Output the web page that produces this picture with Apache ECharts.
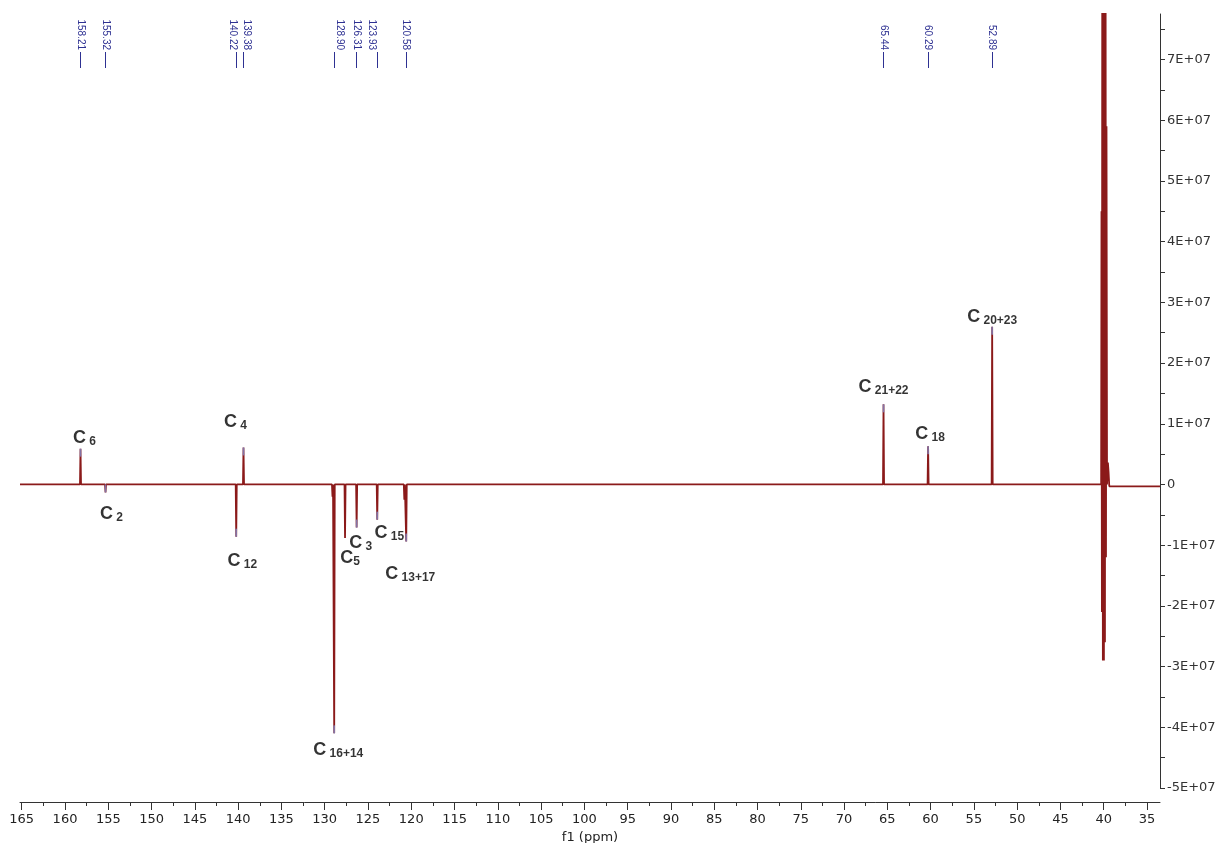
<!DOCTYPE html>
<html>
<head>
<meta charset="utf-8">
<script src="https://cdn.jsdelivr.net/npm/echarts@6/dist/echarts.min.js"></script>
<style>
html, body { margin: 0; padding: 0; background: #fff; }
#chart { width: 1218px; height: 843px; }
</style>
</head>
<body>
<div id="chart"></div>
<script>
// peaks: shift (ppm) and intensity
const peakPpm = [158.21, 155.32, 140.22, 139.38, 129.10, 128.90, 127.65, 126.31, 123.93, 120.80, 120.58, 65.44, 60.29, 52.89];
const peakInt = [5.9e6, -1.3e6, -8.6e6, 6.1e6, -2.0e6, -4.1e7, -8.8e6, -7.1e6, -5.8e6, -2.5e6, -9.4e6, 1.32e7, 6.3e6, 2.6e7];

// solvent multiplet near 39.5 ppm (goes off scale)
const solventPpm = [40.30, 40.26, 40.21, 40.16, 40.10, 40.04, 39.98, 39.92, 39.86, 39.80, 39.74, 39.68, 39.62, 39.52, 39.44, 39.36];
const solventInt = [0, 4.5e7, -2.1e7, 1.2e8, -2.9e7, 1.2e8, -2.9e7, 1.2e8, -2.6e7, 1.2e8, -1.2e7, 5.9e7, 0, 3.6e6, 2.0e6, -3e5];

// picked shifts printed along the top
const shiftLabels = [158.21, 155.32, 140.22, 139.38, 128.90, 126.31, 123.93, 120.58, 65.44, 60.29, 52.89];

// carbon assignments
const carbonNames = ['6', '2', '4', '12', '16+14', '5', '3', '15', '13+17', '21+22', '18', '20+23'];
const carbonPpm = [158.21, 155.32, 139.38, 140.22, 128.90, 127.65, 126.31, 123.93, 120.58, 65.44, 60.29, 52.89];

// axis ticks
const xTicks = [165, 160, 155, 150, 145, 140, 135, 130, 125, 120, 115, 110, 105, 100, 95, 90, 85, 80, 75, 70, 65, 60, 55, 50, 45, 40, 35];
const xMinorTicks = [162.5, 157.5, 152.5, 147.5, 142.5, 137.5, 132.5, 127.5, 122.5, 117.5, 112.5, 107.5, 102.5, 97.5, 92.5, 87.5, 82.5, 77.5, 72.5, 67.5, 62.5, 57.5, 52.5, 47.5, 42.5, 37.5];
const yTicks = [-5e7, -4e7, -3e7, -2e7, -1e7, 0, 1e7, 2e7, 3e7, 4e7, 5e7, 6e7, 7e7];
const yTickMarks = [-5e7, -4.5e7, -4e7, -3.5e7, -3e7, -2.5e7, -2e7, -1.5e7, -1e7, -5e6, 0, 5e6, 1e7, 1.5e7, 2e7, 2.5e7, 3e7, 3.5e7, 4e7, 4.5e7, 5e7, 5.5e7, 6e7, 6.5e7, 7e7, 7.5e7];

const X_MIN = 33.5, X_MAX = 165.2;

// build the trace: each peak as a narrow spike on the baseline
const spectrum = [[X_MAX, 0]];
peakPpm.forEach((p, i) => {
  spectrum.push([p + 0.06, 0], [p, peakInt[i]], [p - 0.06, 0]);
});
solventPpm.forEach((p, i) => spectrum.push([p, solventInt[i]]));
spectrum.push([X_MIN, -3e5]);

const intensityAt = p => peakInt[peakPpm.indexOf(p)];

// label placement around each peak tip: [position, distance, dx]
const annPlace = {
  '6': ['top', 1, 4], '2': ['bottom', 12, 6], '4': ['top', 16, -8], '12': ['bottom', 15, 6],
  '16+14': ['bottom', 7, 4], '5': ['bottom', 11, 5], '3': ['bottom', 6, 4], '15': ['bottom', 4, 12],
  '13+17': ['bottom', 23, 4], '21+22': ['top', 8, 0], '18': ['top', 3, 2], '20+23': ['top', 0, 0]
};
// crowded shift labels are nudged sideways (ppm), the tick stays on the peak
const shiftNudge = { '140.22': 0.35, '139.38': -0.35, '128.90': -0.6, '123.93': 0.6 };
const shiftSlots = shiftLabels.map(v => v + (shiftNudge[v.toFixed(2)] || 0));

const navy = '#2e3192';
const traceColor = '#8b1a1a';

const baseX = { type: 'value', inverse: true, min: X_MIN, max: X_MAX, splitLine: { show: false } };

const chart = echarts.init(document.getElementById('chart'));
chart.setOption({
  animation: false,
  backgroundColor: '#fff',
  grid: { left: 20, right: 58, top: 14, bottom: 55, outerBoundsMode: 'none' },
  xAxis: [
    Object.assign({}, baseX, {
      position: 'bottom', offset: 14,
      axisLine: { onZero: false, lineStyle: { color: '#333' } },
      axisTick: { customValues: xTicks, length: 8, lineStyle: { color: '#333' } },
      axisLabel: { customValues: xTicks, margin: 11, fontSize: 13, fontFamily: 'DejaVu Sans', color: '#222' },
      name: 'f1 (ppm)', nameLocation: 'middle', nameGap: 25,
      nameTextStyle: { fontSize: 13, fontFamily: 'DejaVu Sans', color: '#222' }
    }),
    Object.assign({}, baseX, {
      position: 'bottom', offset: 14,
      axisLine: { show: false, onZero: false },
      axisTick: { customValues: xMinorTicks, length: 4, lineStyle: { color: '#333' } },
      axisLabel: { show: false }
    }),
    Object.assign({}, baseX, {
      position: 'top', offset: -54,
      axisLine: { show: false, onZero: false },
      axisTick: { customValues: shiftLabels, length: 16, lineStyle: { color: navy } },
      axisLabel: { show: false }
    }),
    Object.assign({}, baseX, {
      position: 'top', offset: -54,
      axisLine: { show: false, onZero: false },
      axisTick: { show: false },
      axisLabel: {
        customValues: shiftSlots, rotate: 90, margin: 18, hideOverlap: false,
        fontSize: 10, fontFamily: 'Liberation Sans', color: navy,
        formatter: v => {
          const i = shiftSlots.findIndex(s => Math.abs(s - v) < 1e-6);
          return (i >= 0 ? shiftLabels[i] : v).toFixed(2);
        }
      }
    })
  ],
  yAxis: {
    type: 'value', position: 'right', min: -5e7, max: 7.75e7,
    axisLine: { show: true, onZero: false, lineStyle: { color: '#333' } },
    axisTick: { show: true, customValues: yTickMarks, length: 5, lineStyle: { color: '#333' } },
    axisLabel: {
      customValues: yTicks, margin: 7, fontSize: 13, fontFamily: 'DejaVu Sans', color: '#333',
      formatter: v => (v === 0 ? '0' : Math.round(v / 1e7) + 'E+07')
    },
    splitLine: { show: false }
  },
  series: [
    {
      type: 'line', data: spectrum, showSymbol: false, symbol: 'none',
      lineStyle: { color: traceColor, width: 1.8 }, z: 2
    },
    {
      // peak-pick markers at the tips
      type: 'scatter', symbol: 'rect', z: 3,
      itemStyle: { color: '#8088c8' },
      data: shiftLabels.map(p => {
        const v = intensityAt(p);
        return { value: [p, v], symbolSize: [1.6, 8], symbolOffset: [0, v > 0 ? 4 : -4] };
      })
    },
    {
      type: 'scatter', symbolSize: 1, z: 4,
      itemStyle: { color: 'rgba(0,0,0,0)' },
      data: carbonNames.map((n, i) => {
        const pl = annPlace[n];
        return {
          name: n,
          value: [carbonPpm[i], intensityAt(carbonPpm[i])],
          label: { position: pl[0], distance: pl[1], offset: [pl[2], 0] }
        };
      }),
      label: {
        show: true,
        formatter: p => '{c|C}{s|' + (p.name === '5' ? '' : ' ') + p.name + '}',
        rich: {
          c: { fontSize: 18, fontWeight: 'bold', fontFamily: 'Liberation Sans', color: '#000', lineHeight: 18, verticalAlign: 'top' },
          s: { fontSize: 12, fontWeight: 'bold', fontFamily: 'Liberation Sans', color: '#000', lineHeight: 12, padding: [7, 0, 0, 0] }
        }
      }
    }
  ]
});
</script>
</body>
</html>
